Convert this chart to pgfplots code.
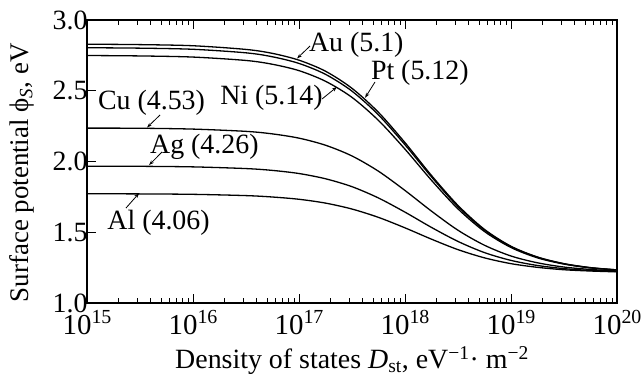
\documentclass[border=0pt]{standalone}
\usepackage{fontspec}
\IfFontExistsTF{LiberationSerif-Regular.ttf}{%
  \setmainfont{LiberationSerif}[Extension=.ttf,UprightFont=*-Regular,ItalicFont=*-Italic,BoldFont=*-Bold,BoldItalicFont=*-BoldItalic]}{%
  \setmainfont{Liberation Serif}}
\usepackage{pgfplots}
\pgfplotsset{compat=1.18}
\usepackage{pgfplotstable}
\usetikzlibrary{arrows.meta}

\pgfplotstableread{
D Au Pt Ni Cu Ag Al
1e15 2.829 2.804 2.749 2.236 1.967 1.772
3.162e15 2.826 2.801 2.746 2.235 1.966 1.771
1e16 2.818 2.793 2.738 2.229 1.962 1.768
3.162e16 2.792 2.768 2.714 2.213 1.950 1.759
5.623e16 2.764 2.740 2.687 2.195 1.937 1.749
1e17 2.716 2.693 2.642 2.165 1.915 1.733
1.778e17 2.638 2.616 2.567 2.115 1.878 1.706
3.162e17 2.517 2.497 2.453 2.039 1.822 1.664
5.623e17 2.347 2.329 2.290 1.931 1.742 1.605
1e18 2.133 2.118 2.087 1.795 1.642 1.531
1.778e18 1.901 1.891 1.867 1.649 1.534 1.451
3.162e18 1.689 1.681 1.665 1.514 1.435 1.377
5.623e18 1.520 1.515 1.505 1.408 1.356 1.319
1e19 1.401 1.398 1.392 1.332 1.301 1.278
1.778e19 1.325 1.323 1.319 1.284 1.265 1.252
3.162e19 1.278 1.277 1.275 1.254 1.243 1.235
5.623e19 1.250 1.249 1.248 1.237 1.230 1.226
1e20 1.234 1.234 1.233 1.226 1.223 1.220
}\data

\newcommand{\bigf}{\rmfamily\fontsize{28}{32}\selectfont}
\newcommand{\ylf}{\rmfamily\fontsize{27}{30}\selectfont}
\newcommand{\xtf}{\rmfamily\fontsize{29}{32}\selectfont}
\newcommand{\pw}[1]{10\raisebox{11bp}{\fontsize{20}{22}\selectfont #1}}

\begin{document}
\begin{tikzpicture}
\begin{axis}[
  at={(0,0)}, anchor=south west,
  scale only axis, width=530bp, height=283bp,
  xmode=log, xmin=1e15, xmax=1e20, ymin=1, ymax=3,
  xtick={1e15,1e16,1e17,1e18,1e19,1e20},
  xticklabels={\pw{15},\pw{16},\pw{17},\pw{18},\pw{19},\pw{20}},
  minor xtick={2e15,3e15,4e15,5e15,6e15,7e15,8e15,9e15,
               2e16,3e16,4e16,5e16,6e16,7e16,8e16,9e16,
               2e17,3e17,4e17,5e17,6e17,7e17,8e17,9e17,
               2e18,3e18,4e18,5e18,6e18,7e18,8e18,9e18,
               2e19,3e19,4e19,5e19,6e19,7e19,8e19,9e19},
  ytick={1,1.5,2,2.5,3}, yticklabels={1.0,1.5,2.0,2.5,3.0},
  tick align=inside, xtick pos=both, ytick pos=left,
  major tick length=9bp, minor tick length=5bp,
  every tick/.style={line width=1bp, black},
  axis line style={line width=1.6bp},
  yticklabel style={font=\bigf, xshift=4bp},
  xticklabel style={font=\xtf, anchor=base, yshift=-31bp},
  label style={font=\bigf},
  xlabel={Density of states \textit{D}\textsubscript{st}, eV\textsuperscript{−1}· m\textsuperscript{−2}},
  ylabel={\ylf Surface potential ϕ\textsubscript{\textit{S}}, eV},
  xlabel style={at={(axis description cs:0.5,-0.233)}, anchor=base},
  ylabel style={at={(axis description cs:-0.123,0.46)}, anchor=center},
]
\addplot[black, line width=1.3bp, smooth] table[x=D, y=Au] {\data};
\addplot[black, line width=1.3bp, smooth] table[x=D, y=Pt] {\data};
\addplot[black, line width=1.3bp, smooth] table[x=D, y=Ni] {\data};
\addplot[black, line width=1.3bp, smooth] table[x=D, y=Cu] {\data};
\addplot[black, line width=1.3bp, smooth] table[x=D, y=Ag] {\data};
\addplot[black, line width=1.3bp, smooth] table[x=D, y=Al] {\data};

\begin{scope}[every node/.style={font=\bigf, inner sep=0pt}]
\node at (axis cs:3.47e17,2.823) {Au (5.1)};
\node at (axis cs:1.38e18,2.625) {Pt (5.12)};
\node at (axis cs:5.5e16,2.449) {Ni (5.14)};
\node at (axis cs:4.06e15,2.413) {Cu (4.53)};
\node at (axis cs:1.28e16,2.102) {Ag (4.26)};
\node at (axis cs:4.73e15,1.565) {Al (4.06)};
\end{scope}
\begin{scope}[line width=0.8bp, -{Stealth[length=5bp,width=3.5bp]}]
\draw (axis cs:1.27e17,2.816) -- (axis cs:9.57e16,2.728);
\draw (axis cs:5.21e17,2.562) -- (axis cs:4.2e17,2.45);
\draw (axis cs:1.65e17,2.442) -- (axis cs:2.28e17,2.527);
\draw (axis cs:4.89e15,2.329) -- (axis cs:3.68e15,2.240);
\draw (axis cs:5.1e15,2.067) -- (axis cs:3.85e15,1.975);
\draw (axis cs:2.33e15,1.671) -- (axis cs:3.1e15,1.776);
\end{scope}
\end{axis}
\pgfresetboundingbox
\useasboundingbox (-87bp,-80bp) rectangle (555bp,303bp);
\end{tikzpicture}
\end{document}
